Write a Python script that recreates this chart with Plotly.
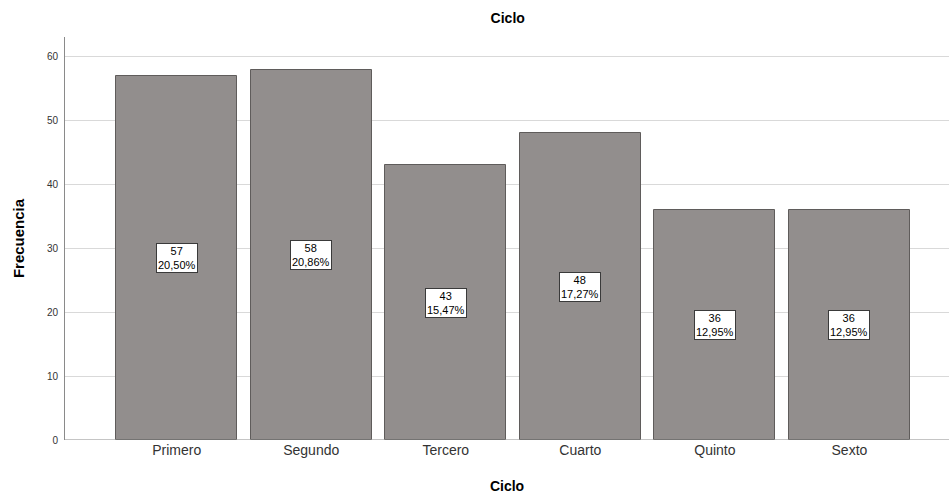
import plotly.graph_objects as go

# Frequency of students by cycle
categorias = ["Primero", "Segundo", "Tercero", "Cuarto", "Quinto", "Sexto"]
frecuencias = [57, 58, 43, 48, 36, 36]
y_ticks = [0, 10, 20, 30, 40, 50, 60]

total = sum(frecuencias)
porcentajes = [f / total * 100 for f in frecuencias]

fig = go.Figure()
fig.add_trace(go.Bar(
    x=list(range(len(categorias))),
    y=frecuencias,
    width=0.9,
    marker=dict(color="#928e8d", line=dict(color="#5f5c5b", width=1)),
    hoverinfo="skip",
))

# Boxed count / percentage labels at the middle of each bar
for i, (f, p) in enumerate(zip(frecuencias, porcentajes)):
    texto = f"{f}<br>{p:.2f}%".replace(".", ",")
    fig.add_annotation(
        x=i, y=f / 2, text=texto, showarrow=False,
        font=dict(family="Liberation Sans, Arial", size=11, color="#000000"),
        bgcolor="#ffffff", bordercolor="#3a3a3a", borderwidth=1, borderpad=1,
        align="center",
    )

fig.update_layout(
    width=949, height=495,
    margin=dict(l=65, r=0, t=37, b=55),
    plot_bgcolor="#ffffff", paper_bgcolor="#ffffff",
    showlegend=False,
    bargap=0,
    title=dict(text="<b>Ciclo</b>", x=0.535, xanchor="center", y=0.963, yanchor="middle",
               font=dict(family="Liberation Sans, Arial", size=14, color="#000000")),
    font=dict(family="Liberation Sans, Arial", color="#000000"),
)

fig.update_xaxes(
    range=[-0.83, 5.74],
    tickmode="array",
    tickvals=list(range(len(categorias))),
    ticktext=categorias,
    tickfont=dict(size=14, color="#333333"),
    showgrid=False, zeroline=False,
    showline=False, ticks="",
    title=dict(text="<b>Ciclo</b>", font=dict(size=14, color="#000000"), standoff=24),
)

fig.update_yaxes(
    range=[0, 63.1],
    tickmode="array",
    tickvals=y_ticks,
    tickfont=dict(size=10, color="#333333"),
    showgrid=True, gridcolor="#d9d9d9", gridwidth=1,
    zeroline=False,
    showline=True, linecolor="#8a8a8a", linewidth=1,
    ticks="", ticklabelstandoff=4,
    title=dict(text="<b>Frecuencia</b>",
               font=dict(family="Liberation Sans Narrow, Liberation Sans, Arial",
                         size=15, color="#000000"),
               standoff=18),
)

# Baseline at zero across the plot
fig.add_shape(type="line", xref="paper", yref="y", x0=0, x1=1, y0=0, y1=0,
              line=dict(color="#8a8a8a", width=1), layer="above")

fig.write_html("out.html")
